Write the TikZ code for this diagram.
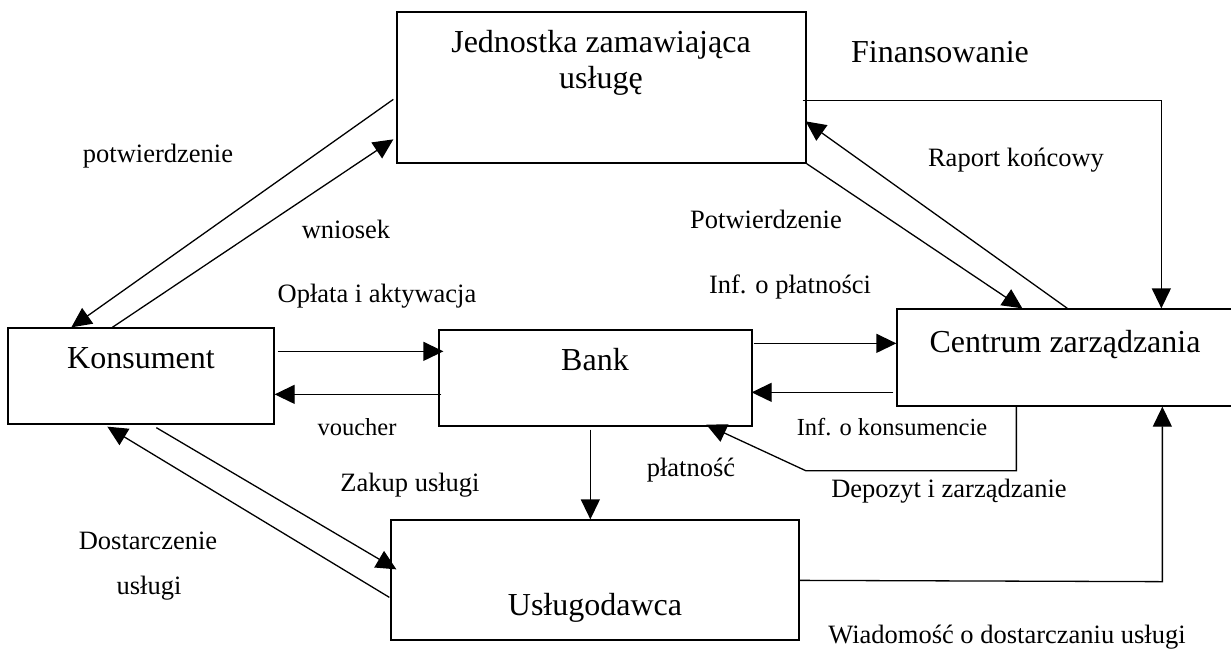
\documentclass[tikz,border=0pt]{standalone}
\usepackage{fontspec}
\setmainfont{Liberation Serif}
\usetikzlibrary{arrows.meta,calc}
\tikzset{
  box/.style={draw, line width=1.3pt, rectangle, inner sep=0pt},
  big/.style={anchor=base, inner sep=0pt, font=\fontsize{32}{36}\selectfont},
  lbl/.style={anchor=base, inner sep=0pt, font=\fontsize{26.5}{30}\selectfont},
  sml/.style={anchor=base, inner sep=0pt, font=\fontsize{24.5}{28}\selectfont},
  con/.style={line width=1.3pt, -{Triangle[length=20pt,width=19pt]}},
  plain/.style={line width=1.3pt}
}
\begin{document}
\begin{tikzpicture}[x=1pt,y=-1pt]
\useasboundingbox (0,0) rectangle (1231,649);
\clip (0,0) rectangle (1231,649);
% boxes
\node[box, minimum width=409pt, minimum height=151pt] (jed) at (601.5,87.5) {};
\node[box, minimum width=266pt, minimum height=96pt] (kon) at (141,376) {};
\node[box, minimum width=313pt, minimum height=96pt] (bank) at (595.5,378) {};
\node[box, minimum width=343pt, minimum height=97pt] (cen) at (1068.5,357.5) {};
\node[box, minimum width=408pt, minimum height=120pt] (usl) at (595,580) {};
% box texts
\node[big] (jedt1) at (601,52) {Jednostka zamawiająca};
\node[big] (jedt2) at (601,88) {usługę};
\node[big] (kont) at (141,368) {Konsument};
\node[big] (bankt) at (595,370) {Bank};
\node[big] (cent) at (1065,352) {Centrum zarządzania};
\node[big] (uslt) at (595,615) {Usługodawca};
% labels
\node[big] (fin) at (940,62) {Finansowanie};
\node[lbl] (l1) at (158,162) {potwierdzenie};
\node[lbl] (l2) at (346,238) {wniosek};
\node[lbl] (l3) at (377,302) {Opłata i aktywacja};
\node[lbl] (l4) at (766,228) {Potwierdzenie};
\node[lbl] (l5) at (790,293) {Inf. o płatności};
\node[lbl] (l6) at (1016,166) {Raport końcowy};
\node[sml] (l7) at (357,435) {voucher};
\node[sml] (l8) at (892,435) {Inf. o konsumencie};
\node[lbl] (l9) at (691,476) {płatność};
\node[lbl] (l10) at (949,497) {Depozyt i zarządzanie};
\node[lbl] (l11) at (410,491) {Zakup usługi};
\node[lbl] (l12) at (148,549) {Dostarczenie};
\node[lbl] (l13) at (149,594) {usługi};
\node[lbl] (l14) at (1007,643) {Wiadomość o dostarczaniu usługi};
% connectors
\draw[con] ($(jed.north west)+(-3,88)$) -- ($(kon.north west)+(64,0)$);
\draw[con] ($(kon.north west)+(105,0)$) -- ($(jed.north west)+(-3,128)$);
\draw[con] ($(kon.north east)+(3,24)$) -- ($(bank.north west)+(5,22)$);
\draw[con] ($(bank.north west)+(3,65)$) -- ($(kon.north east)+(0,67)$);
\draw[con] ($(bank.north east)+(1,14)$) -- ($(cen.north west)+(0,35)$);
\draw[con] ($(cen.north west)+(-3,84)$) -- ($(bank.north east)+(-1,63)$);
\draw[con] ($(cen.south west)+(120,0)$) -- ($(cen.south west)+(120,64)$) -- ($(bank.south east)+(53,44)$) -- ($(bank.south west)+(268,-2)$);
\draw[con] ($(bank.south west)+(152,3)$) -- ($(usl.north west)+(200,0)$);
\draw[con] ($(kon.south west)+(149,3)$) -- ($(usl.north west)+(6,50)$);
\draw[con] ($(usl.north west)+(-1,78)$) -- ($(kon.south west)+(100,2)$);
\draw[con] ($(usl.north east)+(0,61)$) -- ($(cen.south west)+(266,175)$) -- ($(cen.south west)+(266,0)$);
\draw[con] ($(jed.north east)+(-4,89)$) -- ($(cen.north west)+(265,-208)$) -- ($(cen.north west)+(265,0)$);
\draw[con] ($(cen.north west)+(171,0)$) -- ($(jed.north east)+(-1,110)$);
\draw[con] (jed.south east) -- ($(cen.north west)+(126,0)$);
\end{tikzpicture}
\end{document}
